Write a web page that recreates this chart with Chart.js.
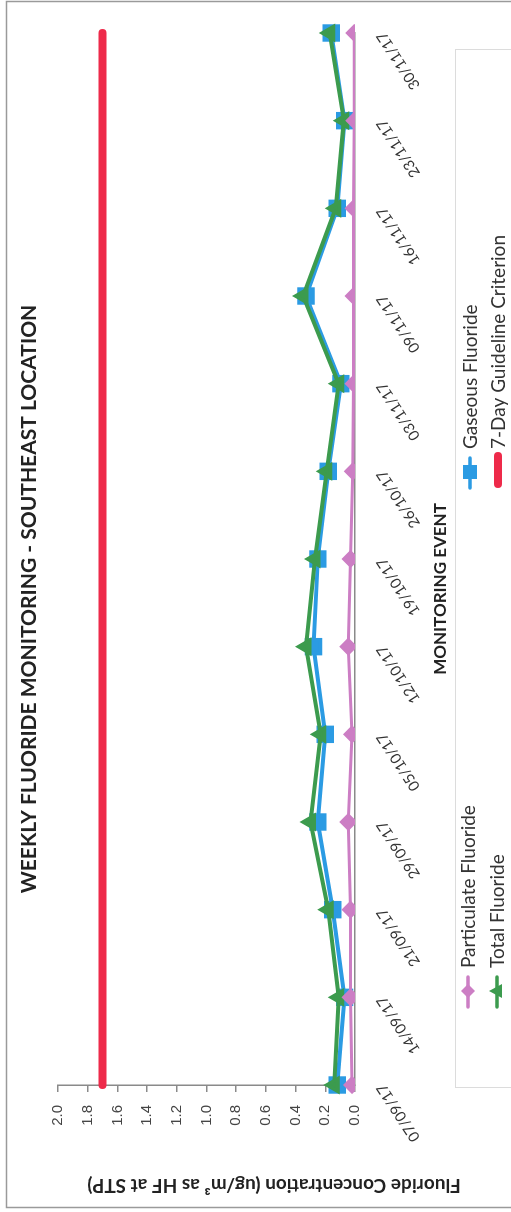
<!DOCTYPE html>
<html>
<head>
<meta charset="utf-8">
<script src="https://cdn.jsdelivr.net/npm/chart.js@4.4.0/dist/chart.umd.min.js"></script>
<style>
  html, body { margin: 0; padding: 0; background: #fff; overflow: hidden; }
  #wrap {
    position: absolute; left: 0; top: 0;
    width: 1212px; height: 511px;
    transform-origin: 0 0;
    transform: translate(0, 1212px) rotate(-90deg);
  }
</style>
</head>
<body>
<div id="wrap"><canvas id="chart" width="1212" height="511"></canvas></div>
<script>
// monitoring events
var events = ['07/09/17', '14/09/17', '21/09/17', '29/09/17', '05/10/17', '12/10/17', '19/10/17',
              '26/10/17', '03/11/17', '09/11/17', '16/11/17', '23/11/17', '30/11/17'];

// ug/m3 as HF at STP
var particulate = [0.02, 0.03, 0.03, 0.045, 0.02, 0.045, 0.03, 0.015, 0.01, 0.01, 0.01, 0.005, 0.005];
var gaseous     = [0.12, 0.07, 0.15, 0.25, 0.20, 0.28, 0.25, 0.18, 0.095, 0.33, 0.12, 0.07, 0.16];
var total       = [0.14, 0.11, 0.18, 0.30, 0.23, 0.33, 0.27, 0.19, 0.11, 0.35, 0.13, 0.075, 0.17];
var guideline   = [1.7, 1.7, 1.7, 1.7, 1.7, 1.7, 1.7, 1.7, 1.7, 1.7, 1.7, 1.7, 1.7];

var yTicks = [0, 0.2, 0.4, 0.6, 0.8, 1.0, 1.2, 1.4, 1.6, 1.8, 2.0];

var title = 'WEEKLY FLUORIDE MONITORING - SOUTHEAST LOCATION';
var xTitle = 'MONITORING EVENT';
var yTitle = 'Fluoride Concentration (ug/m\u00B3 as HF at STP)';

var colors = {
    particulate: '#cc7ec4',
    gaseous: '#2b9be3',
    total: '#3c9b4e',
    guideline: '#ee2a4a'
};

// titles, legend and frame, drawn where the original sheet had them
var decor = {
    id: 'decor',
    afterDraw: function(chart) {
        var ctx = chart.ctx;
        ctx.save();
        ctx.strokeStyle = '#9a9a9a';
        ctx.lineWidth = 1.5;
        ctx.strokeRect(4.5, 6.5, 1206, 600);

        ctx.fillStyle = '#222';
        ctx.textAlign = 'center';
        ctx.textBaseline = 'middle';
        ctx.font = 'bold 21px Lato';
        ctx.fillText(title, 613, 29);
        ctx.font = 'bold 17px Lato';
        ctx.fillText(xTitle, 623, 441);

        ctx.save();
        ctx.translate(27, 274);
        ctx.rotate(-Math.PI / 2);
        ctx.font = 'bold 19px Lato';
        ctx.fillText(yTitle, 0, 0);
        ctx.restore();

        // legend box
        ctx.strokeStyle = '#dcdcdc';
        ctx.lineWidth = 1;
        ctx.strokeRect(124.5, 455.5, 1038, 100);

        var items = [
            {text: 'Particulate Fluoride', color: colors.particulate, style: 'diamond', x: 205, y: 468},
            {text: 'Total Fluoride', color: colors.total, style: 'triangle', x: 205, y: 497},
            {text: 'Gaseous Fluoride', color: colors.gaseous, style: 'square', x: 724, y: 470},
            {text: '7-Day Guideline Criterion', color: colors.guideline, style: 'none', x: 724, y: 498}
        ];
        ctx.font = '19px Lato';
        ctx.textAlign = 'left';
        items.forEach(function(it) {
            ctx.strokeStyle = it.color;
            ctx.fillStyle = it.color;
            ctx.lineCap = 'round';
            ctx.lineWidth = it.style === 'none' ? 8 : 3.5;
            ctx.beginPath();
            ctx.moveTo(it.x + (it.style === 'none' ? 4 : 0), it.y);
            ctx.lineTo(it.x + (it.style === 'none' ? 32 : 30), it.y);
            ctx.stroke();
            var cx = it.x + 16, cy = it.y;
            ctx.beginPath();
            if (it.style === 'square') {
                ctx.rect(cx - 7, cy - 7, 14, 14);
            } else if (it.style === 'diamond') {
                ctx.moveTo(cx, cy - 7); ctx.lineTo(cx + 7, cy); ctx.lineTo(cx, cy + 7); ctx.lineTo(cx - 7, cy);
                ctx.closePath();
            } else if (it.style === 'triangle') {
                ctx.moveTo(cx, cy - 8); ctx.lineTo(cx + 7, cy + 5); ctx.lineTo(cx - 7, cy + 5);
                ctx.closePath();
            }
            ctx.fill();
            ctx.fillStyle = '#333';
            ctx.fillText(it.text, it.x + 39, it.y + 1);
        });
        ctx.restore();
    }
};

var chart = new Chart(document.getElementById('chart').getContext('2d'), {
    type: 'line',
    data: {
        labels: events,
        datasets: [
            {
                label: 'Particulate Fluoride',
                data: particulate,
                borderColor: colors.particulate,
                backgroundColor: colors.particulate,
                borderWidth: 3,
                pointStyle: 'rectRot',
                pointRadius: 7,
                tension: 0
            },
            {
                label: 'Total Fluoride',
                data: total,
                borderColor: colors.total,
                backgroundColor: colors.total,
                borderWidth: 4,
                pointStyle: 'triangle',
                pointRadius: 7,
                tension: 0
            },
            {
                label: 'Gaseous Fluoride',
                data: gaseous,
                borderColor: colors.gaseous,
                backgroundColor: colors.gaseous,
                borderWidth: 4,
                pointStyle: 'rect',
                pointRadius: 9.5,
                tension: 0
            },
            {
                label: '7-Day Guideline Criterion',
                data: guideline,
                borderColor: colors.guideline,
                backgroundColor: colors.guideline,
                borderWidth: 8,
                borderCapStyle: 'round',
                pointRadius: 0,
                tension: 0
            }
        ]
    },
    options: {
        responsive: false,
        animation: false,
        layout: { padding: { left: 0, top: 58, right: 33, bottom: 0 } },
        plugins: {
            legend: { display: false },
            title: { display: false },
            tooltip: { enabled: false }
        },
        scales: {
            x: {
                offset: false,
                grid: { display: false },
                border: { display: true, color: '#8a8a8a', width: 1.5 },
                ticks: {
                    autoSkip: false,
                    minRotation: 33,
                    maxRotation: 33,
                    padding: 10,
                    color: '#333',
                    font: { family: 'Lato', size: 15 }
                },
                afterFit: function(scale) { scale.height = 156; }
            },
            y: {
                min: 0,
                max: 2,
                afterBuildTicks: function(scale) {
                    scale.ticks = yTicks.map(function(v) { return {value: v}; });
                },
                grid: { drawOnChartArea: false, tickLength: 7, color: '#8a8a8a', lineWidth: 1.5 },
                border: { display: true, color: '#8a8a8a', width: 1.5 },
                ticks: {
                    padding: 13,
                    color: '#444',
                    font: { family: 'Liberation Sans', size: 15 },
                    callback: function(v) { return Number(v).toFixed(1); }
                },
                afterFit: function(scale) { scale.width = 127; }
            }
        }
    },
    plugins: [decor]
});
</script>
</body>
</html>
